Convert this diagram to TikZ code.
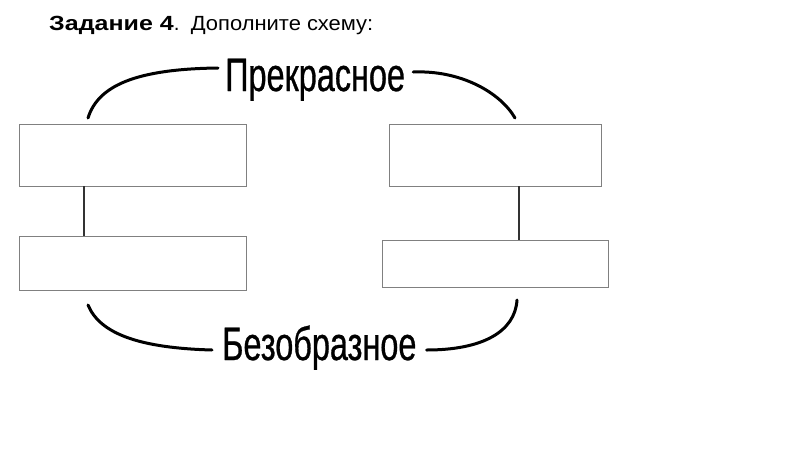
\documentclass[tikz,border=0pt]{standalone}
\usepackage{fontspec}
\usepackage{graphicx}
\setmainfont{Liberation Sans}
\newfontfamily\narrowfont[FakeStretch=0.69,FakeBold=0.6]{Liberation Sans}
\begin{document}
\begin{tikzpicture}[x=1pt,y=-1pt,
  blank/.style={draw=black!50,line width=0.9pt,fill=white,inner sep=0pt},
  link/.style={draw=black!80,line width=2.4pt},
  arc/.style={draw=black,line width=3pt,line cap=round},
  big/.style={font=\narrowfont\fontsize{47}{47}\selectfont,inner sep=0pt,anchor=base west}]
\useasboundingbox[fill=white] (0,0) rectangle (800,450);
\node[anchor=base west,inner sep=0pt,font=\fontsize{20.5}{22}\selectfont] (title) at (49,30) {\scalebox{1.22}[1]{\textbf{Задание 4}}.\ \ \scalebox{1.07}[1]{Дополните схему:}};
\node[blank,minimum width=227pt,minimum height=62pt] (b1) at (132.5,155) {};
\node[blank,minimum width=212pt,minimum height=62pt] (b2) at (495,155) {};
\node[blank,minimum width=227pt,minimum height=54pt] (b3) at (132.5,263) {};
\node[blank,minimum width=226pt,minimum height=47pt] (b4) at (495,263.5) {};
\coordinate (lx) at (84,0);
\coordinate (rx) at (519,0);
\draw[link] (b1.south -| lx) -- (b3.north -| lx);
\draw[link] (b2.south -| rx) -- (b4.north -| rx);
\node[big] (top) at (225,91) {Прекрасное};
\node[big] (bot) at (222,360) {Безобразное};
\coordinate (tl) at (88,118);
\coordinate (tr) at (515,118);
\coordinate (bl) at (88,305);
\coordinate (br) at (517,300);
\draw[arc] (tl) .. controls (98,86) and (135,69) .. ([xshift=-7pt]top.base west |- 0,68);
\draw[arc] ([xshift=8pt]top.base east |- 0,72) .. controls (460,70) and (500,92) .. (tr);
\draw[arc] (bl) .. controls (100,334) and (140,348) .. ([xshift=-10pt]bot.base west |- 0,350);
\draw[arc] ([xshift=10pt]bot.base east |- 0,350) .. controls (482,350) and (515,332) .. (br);
\end{tikzpicture}
\end{document}
